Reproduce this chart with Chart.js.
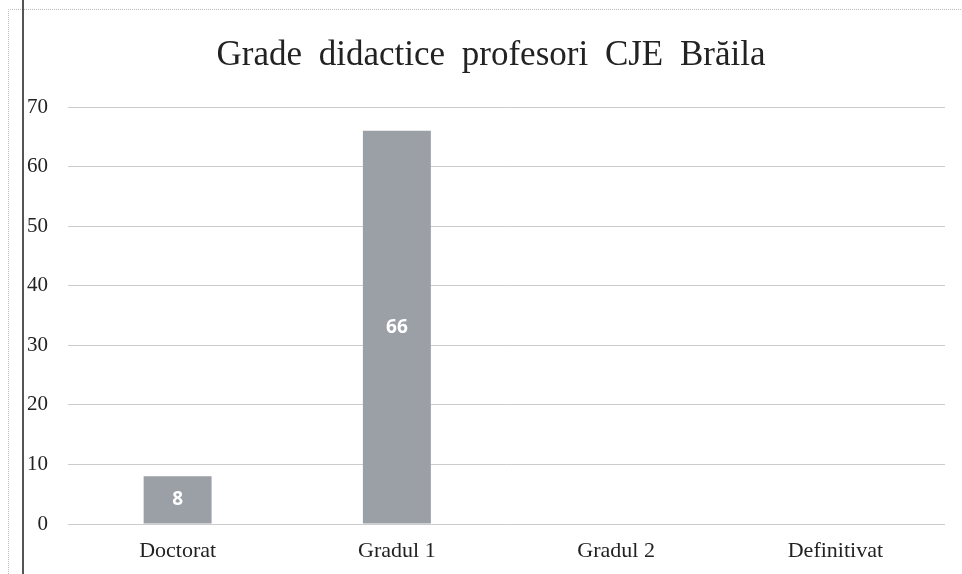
<!DOCTYPE html>
<html>
<head>
<meta charset="utf-8">
<script src="https://cdn.jsdelivr.net/npm/chart.js@4"></script>
<style>
html,body{margin:0;padding:0;background:#fff;}
#wrap{position:relative;width:962px;height:574px;}
</style>
</head>
<body>
<div id="wrap"><canvas id="c" width="962" height="574"></canvas></div>
<script>
const chartTitle = "Grade didactice profesori CJE Brăila";
const categories = ["Doctorat", "Gradul 1", "Gradul 2", "Definitivat"];
const values = [8, 66, 0, 0];
const yTicks = [0, 10, 20, 30, 40, 50, 60, 70];

const serif = "'Liberation Serif', 'Times New Roman', serif";

const frame = {
  id: 'frame',
  beforeDraw(chart) {
    const ctx = chart.ctx;
    ctx.save();
    ctx.fillStyle = '#fff';
    ctx.fillRect(0, 0, chart.width, chart.height);
    ctx.strokeStyle = '#bbbbbb';
    ctx.lineWidth = 1;
    ctx.setLineDash([1, 1]);
    ctx.beginPath();
    ctx.moveTo(8.5, 574); ctx.lineTo(8.5, 9.5); ctx.lineTo(962, 9.5);
    ctx.stroke();
    ctx.setLineDash([]);
    ctx.strokeStyle = '#555';
    ctx.lineWidth = 2;
    ctx.beginPath();
    ctx.moveTo(23, 0); ctx.lineTo(23, 574);
    ctx.stroke();
    ctx.restore();
  },
  afterDraw(chart) {
    const ctx = chart.ctx;
    ctx.save();
    ctx.fillStyle = '#222';
    ctx.font = "35px " + serif;
    if ('wordSpacing' in ctx) ctx.wordSpacing = '8px';
    ctx.textAlign = 'center';
    ctx.textBaseline = 'alphabetic';
    ctx.fillText(chartTitle, 491, 65);
    ctx.restore();
  }
};

const barLabels = {
  id: 'barLabels',
  afterDatasetsDraw(chart) {
    const ctx = chart.ctx;
    const meta = chart.getDatasetMeta(0);
    ctx.save();
    ctx.fillStyle = '#ffffff';
    ctx.font = "bold 19px 'Open Sans', 'DejaVu Sans', sans-serif";
    ctx.textAlign = 'center';
    ctx.textBaseline = 'middle';
    meta.data.forEach((el, i) => {
      const v = chart.data.datasets[0].data[i];
      if (!v) return;
      ctx.fillText(String(v), el.x, (el.y + el.base) / 2);
    });
    ctx.restore();
  }
};

new Chart(document.getElementById('c'), {
  type: 'bar',
  data: {
    labels: categories,
    datasets: [{
      data: values,
      backgroundColor: '#9b9fa6',
      borderWidth: 0,
      categoryPercentage: 1,
      barPercentage: 0.31
    }]
  },
  options: {
    responsive: false,
    animation: false,
    devicePixelRatio: 1,
    layout: { padding: { left: 0, right: 17, top: 107, bottom: 0 } },
    plugins: {
      legend: { display: false },
      tooltip: { enabled: false },
      title: { display: false }
    },
    scales: {
      x: {
        grid: { display: false, drawTicks: false },
        border: { display: false },
        ticks: { color: '#222', font: { family: serif, size: 22 }, padding: 14 },
        afterFit(scale) { scale.height = 50; }
      },
      y: {
        min: 0,
        max: 70,
        afterBuildTicks(axis) { axis.ticks = yTicks.map(v => ({ value: v })); },
        grid: { color: '#cccccc', lineWidth: 1, drawTicks: false },
        border: { display: false },
        ticks: { color: '#222', font: { family: serif, size: 21 }, padding: 20 },
        afterFit(scale) { scale.width = 68; }
      }
    }
  },
  plugins: [frame, barLabels]
});
</script>
</body>
</html>
